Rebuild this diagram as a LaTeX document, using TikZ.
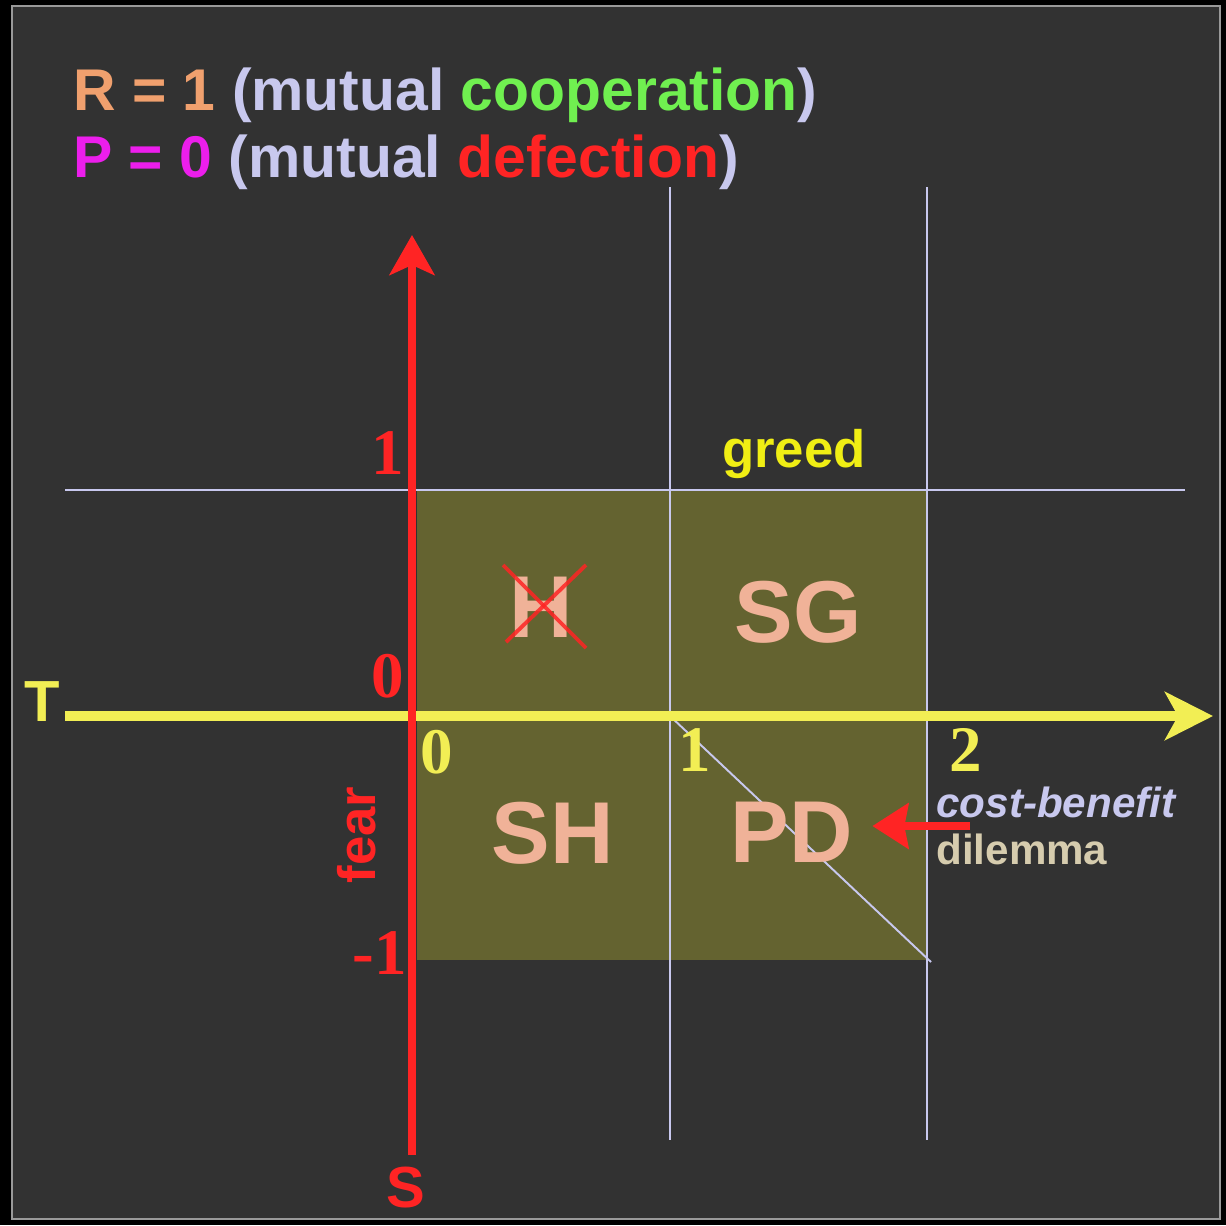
\documentclass[tikz,border=0pt]{standalone}
\usepackage{fontspec}
\setmainfont{Liberation Serif}
\setsansfont{Liberation Sans}
\usetikzlibrary{arrows.meta, positioning}

\definecolor{panel}{RGB}{50,50,50}
\definecolor{boxolive}{RGB}{100,99,48}
\definecolor{lav}{RGB}{200,200,238}
\definecolor{axred}{RGB}{255,36,36}
\definecolor{axyellow}{RGB}{242,238,84}
\definecolor{greedyel}{RGB}{240,238,20}
\definecolor{salmon}{RGB}{240,178,152}
\definecolor{rsalmon}{RGB}{240,160,110}
\definecolor{coopgreen}{RGB}{112,240,80}
\definecolor{pmagenta}{RGB}{236,30,236}
\definecolor{tan}{RGB}{214,204,174}

\begin{document}
\begin{tikzpicture}[
    x=0.02cm, y=-0.02cm, >=Stealth,
    thinline/.style={draw=lav, line width=1.1pt},
    region/.style={inner sep=0, text=salmon,
                   font=\sffamily\bfseries\fontsize{50}{50}\selectfont},
    ticklab/.style={inner sep=0,
                    font=\rmfamily\bfseries\fontsize{37}{37}\selectfont},
    axlab/.style={inner sep=0,
                  font=\sffamily\bfseries\fontsize{33}{33}\selectfont}
  ]
  \useasboundingbox (0,0) rectangle (1226,1225);
  \fill[black] (0,0) rectangle (1226,1225);
  \draw[fill=panel, draw=gray!80, line width=0.8pt] (12,6) rectangle (1220,1219);

  % title
  \node[anchor=base west, inner sep=0, font=\sffamily\bfseries\fontsize{33.5}{33.5}\selectfont]
    (rline) at (73,110) {\color{rsalmon}R = 1 \color{lav}(mutual
    \color{coopgreen}cooperation\color{lav})};
  \node[anchor=base west, inner sep=0, font=\sffamily\bfseries\fontsize{33.5}{33.5}\selectfont]
    (pline) at (73,177) {\color{pmagenta}P = 0 \color{lav}(mutual
    \color{axred}defection\color{lav})};

  % payoff square
  \fill[boxolive] (417,490) rectangle (927,960);

  % grid lines
  \coordinate (v1top) at (670,187);  \coordinate (v1bot) at (670,1140);
  \coordinate (v2top) at (927,187);  \coordinate (v2bot) at (927,1140);
  \coordinate (hleft) at (65,490);   \coordinate (hright) at (1185,490);
  \coordinate (dstart) at (670,716); \coordinate (dend) at (931,962);
  \draw[thinline] (v1top) -- (v1bot);
  \draw[thinline] (v2top) -- (v2bot);
  \draw[thinline] (hleft) -- (hright);
  \draw[thinline] (dstart) -- (dend);

  % axes
  \coordinate (tstart) at (65,716);  \coordinate (tend) at (1213,716);
  \coordinate (sbot) at (412,1155);  \coordinate (stop) at (412,235);
  \draw[axyellow, line width=0.2cm,
        -{Stealth[length=0.96cm, width=0.96cm, inset=0.26cm]}] (tstart) -- (tend);
  \draw[axred, line width=0.16cm,
        -{Stealth[length=0.8cm, width=0.9cm, inset=0.2cm]}] (sbot) -- (stop);
  \node[axlab, text=axyellow] (tlab) at (42,702) {T};
  \node[axlab, text=axred] (slab) at (406,1188) {S};

  % tick labels
  \node[ticklab, text=axred] (s1) at (388,453) {1};
  \node[ticklab, text=axred] (s0) at (388,676) {0};
  \node[ticklab, text=axred] (sm1) at (380,953) {-1};
  \node[ticklab, text=axyellow] (t0) at (437,752) {0};
  \node[ticklab, text=axyellow] (t1) at (695,750) {1};
  \node[ticklab, text=axyellow] (t2) at (966,750) {2};

  % regions
  \node[region] (h) at (541,607) {H};
  \node[region] (sg) at (798,612) {SG};
  \node[region] (sh) at (553,833) {SH};
  \node[region] (pd) at (792,832) {PD};
  \draw[axred, opacity=0.85, line width=2.2pt] (503,565) -- (586,648);
  \draw[axred, opacity=0.85, line width=2.2pt] (586,565) -- (506,642);

  \node[anchor=base, inner sep=0, text=greedyel,
        font=\sffamily\bfseries\fontsize{30}{30}\selectfont] (greed) at (794,467) {greed};
  \node[rotate=90, inner sep=0, text=axred,
        font=\sffamily\bfseries\fontsize{30}{30}\selectfont] (fear) at (357,835) {fear};

  % cost-benefit arrow
  \node[anchor=base west, inner sep=0, text=lav,
        font=\sffamily\bfseries\itshape\fontsize{24}{24}\selectfont] (cb) at (936,817) {cost-benefit};
  \node[anchor=base west, inner sep=0, text=tan,
        font=\sffamily\bfseries\fontsize{24}{24}\selectfont] (dil) at (936,864) {dilemma};
  \coordinate (cbstart) at (970,826);
  \draw[axred, line width=0.16cm, shorten >=0.38cm,
        -{Stealth[length=0.72cm, width=0.9cm, inset=0.08cm]}] (cbstart) -- (pd.east |- cbstart);
\end{tikzpicture}
\end{document}
